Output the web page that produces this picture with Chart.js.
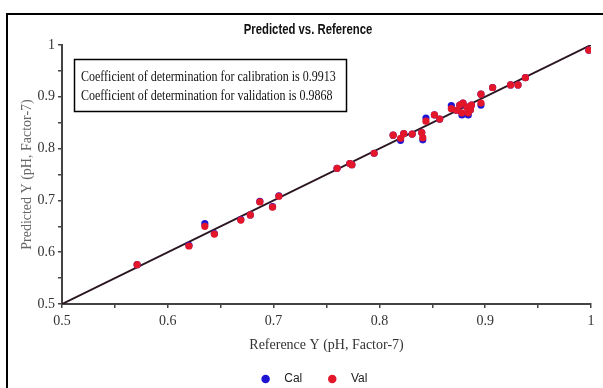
<!DOCTYPE html>
<html>
<head>
<meta charset="utf-8">
<script src="https://cdn.jsdelivr.net/npm/chart.js@4.4.1/dist/chart.umd.min.js"></script>
<style>
  html, body { margin:0; padding:0; background:#fff; overflow:hidden; }
  #wrap { position:relative; width:603px; height:388px; }
  #frame { position:absolute; left:6px; top:13px; width:700px; height:500px; border-left:2px solid #000; border-top:2px solid #000; pointer-events:none; }
  canvas { position:absolute; left:0; top:0; }
</style>
</head>
<body>
<div id="wrap">
  <canvas id="c" width="603" height="388"></canvas>
  <div id="frame"></div>
</div>
<script>
// Reference Y values (x axis)
const referenceY = [0.571,0.620,0.635,0.644,0.669,0.678,0.687,0.699,0.705,0.760,0.772,0.774,0.795,0.813,0.823,0.820,0.831,0.840,0.841,0.844,0.852,0.857,0.868,0.873,0.876,0.879,0.878,0.883,0.884,0.886,0.887,0.896,0.896,0.907,0.924,0.931,0.938,0.998];
// Predicted Y, calibration
const calPredicted = [0.576,0.613,0.655,0.636,0.663,0.672,0.698,0.688,0.709,0.762,0.771,0.769,0.791,0.826,0.829,0.816,0.828,0.831,0.817,0.859,0.865,0.857,0.883,0.874,0.884,0.888,0.865,0.880,0.865,0.875,0.884,0.905,0.884,0.918,0.923,0.923,0.937,0.990];
// Predicted Y, validation
const valPredicted = [0.576,0.612,0.650,0.635,0.662,0.672,0.697,0.687,0.708,0.762,0.771,0.769,0.791,0.826,0.829,0.820,0.828,0.831,0.821,0.853,0.865,0.857,0.877,0.874,0.884,0.888,0.869,0.880,0.869,0.875,0.884,0.905,0.888,0.918,0.923,0.923,0.937,0.990];
// Target line
const lineX = [0.5, 1.0];
const lineY = [0.5, 1.0];
const tickValues = [0.5, 0.6, 0.7, 0.8, 0.9, 1.0];
const chartTitle = "Predicted vs. Reference";
const r2Lines = ["Coefficient of determination for calibration is 0.9913",
                 "Coefficient of determination for validation is 0.9868"];

const toPts = (xs, ys) => xs.map((x, i) => ({x: x, y: ys[i]}));
const fmt = v => {
  for (const t of tickValues) if (Math.abs(v - t) < 1e-6) return String(t);
  return '';
};

const serif = '"Liberation Serif", "Times New Roman", serif';
const sans = '"Liberation Sans", Arial, sans-serif';

const textPlugin = {
  id: 'texts',
  afterLayout(chart) {
    if (chart.legend) { chart.legend.left += 14; chart.legend.right += 14; }
  },
  afterDraw(chart) {
    const ctx = chart.ctx;
    ctx.save();
    // title (condensed look)
    ctx.fillStyle = '#111';
    ctx.font = 'bold 14px ' + sans;
    ctx.textBaseline = 'middle';
    ctx.textAlign = 'center';
    ctx.save();
    ctx.translate(308, 30);
    ctx.scale(0.81, 1);
    ctx.fillText(chartTitle, 0, 0);
    ctx.restore();
    // R2 box
    ctx.strokeStyle = '#000';
    ctx.lineWidth = 1.5;
    ctx.strokeRect(74.5, 59.5, 272, 52);
    ctx.fillStyle = '#111';
    ctx.font = '15px ' + serif;
    ctx.textAlign = 'left';
    ctx.save();
    ctx.translate(81, 0);
    ctx.scale(0.8, 1);
    ctx.fillText(r2Lines[0], 0, 77);
    ctx.fillText(r2Lines[1], 0, 96);
    ctx.restore();
    ctx.restore();
  }
};

new Chart(document.getElementById('c'), {
  type: 'scatter',
  data: {
    datasets: [
      { label: 'Val', data: toPts(referenceY, valPredicted), backgroundColor: 'rgb(228,22,42)', borderWidth: 0, pointRadius: 3.6, pointHoverRadius: 3.6, order: 1 },
      { label: 'Cal', data: toPts(referenceY, calPredicted), backgroundColor: 'rgb(30,20,210)', borderWidth: 0, pointRadius: 3.6, pointHoverRadius: 3.6, order: 2 },
      { type: 'line', label: 'target', data: toPts(lineX, lineY), borderColor: '#2a1520', borderWidth: 2, pointRadius: 0, fill: false, order: 3 }
    ]
  },
  options: {
    responsive: false,
    animation: false,
    layout: { padding: { left: 8, right: 12, top: 45, bottom: -7 } },
    plugins: {
      tooltip: { enabled: false },
      title: { display: false },
      legend: {
        position: 'bottom',
        labels: {
          usePointStyle: true, pointStyle: 'circle', boxHeight: 6,
          color: '#222', font: { family: sans, size: 12 },
          padding: 4,
          generateLabels: chart => {
            const items = Chart.defaults.plugins.legend.labels.generateLabels(chart)
              .filter(it => it.text !== 'target');
            items.forEach(it => { it.text = '  ' + it.text; });
            items.reverse();
            items[0].text += '      ';
            return items;
          }
        }
      }
    },
    scales: {
      x: {
        type: 'linear', min: 0.5, max: 1.0,
        afterFit: s => { s.height = 65; },
        ticks: { stepSize: 0.05, autoSkip: false, maxRotation: 0, callback: v => fmt(v), color: '#333', font: { family: serif, size: 14 }, padding: 5 },
        grid: { drawOnChartArea: false, drawTicks: true, tickLength: 4, color: '#444', lineWidth: 1.5 },
        border: { display: true, color: '#444', width: 2 },
        title: { display: true, text: 'Reference Y (pH, Factor-7)', color: '#333', font: { family: serif, size: 14 }, padding: { top: 4, bottom: 15.6 } }
      },
      y: {
        type: 'linear', min: 0.5, max: 1.0,
        afterFit: s => { s.width = 54; },
        ticks: { stepSize: 0.05, autoSkip: false, callback: v => fmt(v), color: '#333', font: { family: serif, size: 14 }, padding: 3 },
        grid: { drawOnChartArea: false, drawTicks: true, tickLength: 4, color: '#444', lineWidth: 1.5 },
        border: { display: true, color: '#444', width: 2 },
        title: { display: true, text: 'Predicted Y (pH, Factor-7)', color: '#666', font: { family: serif, size: 14 }, padding: { top: 11, bottom: 0 } }
      }
    }
  },
  plugins: [textPlugin]
});
</script>
</body>
</html>
